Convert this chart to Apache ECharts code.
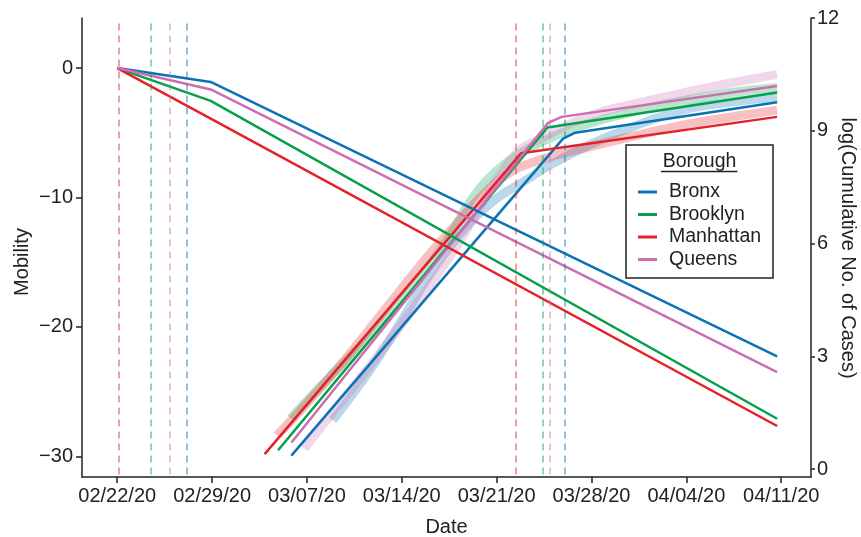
<!DOCTYPE html>
<html><head><meta charset="utf-8">
<script src="https://cdn.jsdelivr.net/npm/echarts@6/dist/echarts.min.js"></script>
<style>html,body{margin:0;padding:0;background:#fff}#c{width:861px;height:537px}</style>
</head><body><div id="c"></div>
<script>
// x values are days since 02/22/20
const boroughs = ['Bronx', 'Brooklyn', 'Manhattan', 'Queens'];
const colors = ['#0A72B5', '#07A04A', '#E42228', '#CC6FB2'];
const dateTicks = [0, 7, 14, 21, 28, 35, 42, 49];
const dateLabels = ['02/22/20', '02/29/20', '03/07/20', '03/14/20', '03/21/20', '03/28/20', '04/04/20', '04/11/20'];
const mobilityTicks = [-30, -20, -10, 0];
const casesTicks = [0, 3, 6, 9, 12];

// Mobility piecewise-linear fits [day, mobility]
const mobBronx = [[0, 0], [6.9, -1.07], [48.7, -22.27]];
const mobBrooklyn = [[0, 0], [6.9, -2.53], [48.7, -27.1]];
const mobManhattan = [[0, 0], [6.9, -3.9], [48.7, -27.66]];
const mobQueens = [[0, 0], [6.9, -1.65], [48.7, -23.5]];

// log cumulative cases: piecewise fits [day, value]
const fitBronx = [[12.85, 0.36], [32.9, 8.79], [33.8, 8.95], [48.7, 9.76]];
const fitBrooklyn = [[11.87, 0.5], [31.75, 9.09], [48.7, 10.02]];
const fitManhattan = [[10.88, 0.4], [29.8, 8.4], [48.7, 9.37]];
const fitQueens = [[12.86, 0.71], [31.8, 9.21], [32.8, 9.37], [48.7, 10.19]];

// log cumulative cases: observed (smoothed) [day, value]
const obsBronx = [[15.9, 1.3], [18.5, 2.55], [20.9, 3.9], [23.4, 5.35], [25.9, 6.5], [28, 7.2], [30, 7.65], [32, 8.1], [35, 8.65], [38, 9.1], [41.7, 9.55], [45, 9.75], [48.7, 9.9]];
const obsBrooklyn = [[12.8, 1.35], [15, 2.2], [18, 3.3], [21, 4.5], [24, 5.9], [26.4, 7.3], [28.9, 8.2], [31.3, 8.7], [34, 9.1], [38, 9.5], [41.7, 9.8], [45, 10.0], [48.7, 10.15]];
const obsManhattan = [[11.8, 0.9], [14, 1.75], [17, 3.0], [20, 4.35], [23, 5.7], [25, 6.5], [27, 7.3], [29, 7.9], [31, 8.2], [34, 8.5], [38, 8.85], [41.7, 9.15], [45, 9.35], [48.7, 9.55]];
const obsQueens = [[13.8, 0.55], [16, 1.55], [19, 2.9], [22, 4.35], [25, 5.9], [27.5, 7.4], [29.6, 8.45], [31.3, 8.8], [33.5, 9.2], [35.7, 9.5], [38, 9.7], [41.7, 10.0], [45, 10.25], [48.7, 10.5]];

// intervention dates (vertical dashed lines), days since 02/22/20
const policyBronx = [5.15, 33.0];
const policyBrooklyn = [2.5, 31.4];
const policyManhattan = [0.1, 29.4];
const policyQueens = [3.85, 31.9];

const mob = [mobBronx, mobBrooklyn, mobManhattan, mobQueens];
const fit = [fitBronx, fitBrooklyn, fitManhattan, fitQueens];
const obs = [obsBronx, obsBrooklyn, obsManhattan, obsQueens];
const policy = [policyBronx, policyBrooklyn, policyManhattan, policyQueens];

const FONT = 'Liberation Sans, Arial, Helvetica, sans-serif';
const AX = '#222';
const xMin = -2.6, xMax = 51.2;
const yMin = -31.6, yMax = 3.87;
const y2Min = -0.21, y2Max = 12;
const dashTop = 3.45;

function hexA(hex, a) {
  const n = parseInt(hex.slice(1), 16);
  return `rgba(${(n >> 16) & 255},${(n >> 8) & 255},${n & 255},${a})`;
}

const series = [];
boroughs.forEach((b, i) => {
  series.push({
    type: 'line', name: b + ' policy', data: [], yAxisIndex: 0, silent: true, z: 1,
    markLine: {
      symbol: 'none', silent: true, label: { show: false }, animation: false,
      lineStyle: { color: hexA(colors[i], 0.55), type: [7, 5], width: 1.6 },
      data: policy[i].map(d => [{ coord: [d, dashTop] }, { coord: [d, yMin] }])
    }
  });
});
boroughs.forEach((b, i) => {
  series.push({
    type: 'line', name: b + ' obs', data: obs[i], yAxisIndex: 1, smooth: 0.4,
    symbol: 'none', z: 2, silent: true,
    lineStyle: { color: colors[i], width: 9, opacity: 0.28, cap: 'butt' }
  });
});
boroughs.forEach((b, i) => {
  series.push({
    type: 'line', name: b, data: fit[i], yAxisIndex: 1, symbol: 'none', z: 3,
    lineStyle: { color: colors[i], width: 2.5 }, itemStyle: { color: colors[i] }
  });
});
boroughs.forEach((b, i) => {
  series.push({
    type: 'line', name: b, data: mob[i], yAxisIndex: 0, symbol: 'none', z: 3,
    lineStyle: { color: colors[i], width: 2.5 }, itemStyle: { color: colors[i] }
  });
});

const chart = echarts.init(document.getElementById('c'), null, { renderer: 'canvas' });
chart.setOption({
  animation: false,
  backgroundColor: '#fff',
  textStyle: { fontFamily: FONT },
  grid: { left: 82, right: 50, top: 18, bottom: 60, containLabel: false, outerBoundsMode: 'none' },
  xAxis: {
    type: 'value', min: xMin, max: xMax,
    name: 'Date', nameLocation: 'middle', nameGap: 40,
    nameTextStyle: { fontSize: 20, color: AX, fontFamily: FONT },
    axisLine: { show: true, onZero: false, lineStyle: { color: AX, width: 1.5 } },
    axisTick: { show: true, length: 6, lineStyle: { color: AX, width: 1.5 }, customValues: dateTicks },
    axisLabel: { customValues: dateTicks, fontSize: 20, color: AX, margin: 9, fontFamily: FONT,
      formatter: v => dateLabels[dateTicks.indexOf(v)] },
    splitLine: { show: false }
  },
  yAxis: [{
    type: 'value', min: yMin, max: yMax, position: 'left',
    axisLine: { show: true, onZero: false, lineStyle: { color: AX, width: 1.5 } },
    axisTick: { show: true, length: 6, lineStyle: { color: AX, width: 1.5 }, customValues: mobilityTicks },
    axisLabel: { customValues: mobilityTicks, fontSize: 20, color: AX, margin: 9, fontFamily: FONT,
      formatter: v => (v < 0 ? '\u2212' + Math.abs(v) : String(v)) },
    splitLine: { show: false }
  }, {
    type: 'value', min: y2Min, max: y2Max, position: 'right',
    axisLine: { show: true, onZero: false, lineStyle: { color: AX, width: 1.5 } },
    axisTick: { show: true, length: 4, lineStyle: { color: AX, width: 1.5 }, customValues: casesTicks },
    axisLabel: { customValues: casesTicks, fontSize: 20, color: AX, margin: 6, fontFamily: FONT },
    splitLine: { show: false }
  }],
  legend: {
    data: boroughs, orient: 'vertical', left: 638, top: 182, z: 100,
    icon: 'rect', itemWidth: 19, itemHeight: 3, itemGap: 2.5, padding: 0,
    textStyle: { fontSize: 19.5, color: AX, fontFamily: FONT, padding: [0, 0, 0, 7] },
    selectedMode: false
  },
  graphic: [
    { type: 'text', z: 95, x: 22, y: 262, rotation: Math.PI / 2,
      style: { text: 'Mobility', fontSize: 20, fontFamily: FONT, fill: AX, align: 'center', verticalAlign: 'middle' } },
    { type: 'text', z: 95, x: 848, y: 248, rotation: -Math.PI / 2,
      style: { text: 'log(Cumulative No. of Cases)', fontSize: 20, fontFamily: FONT, fill: AX, align: 'center', verticalAlign: 'middle' } },
    { type: 'rect', z: 90, shape: { x: 626, y: 145, width: 147, height: 133 },
      style: { fill: '#fff', stroke: AX, lineWidth: 1.5 } },
    { type: 'text', z: 95, x: 699.5, y: 162,
      style: { text: 'Borough', fontSize: 19.5, fontFamily: FONT, fill: AX, align: 'center', verticalAlign: 'middle' } },
    { type: 'line', z: 95, shape: { x1: 661, y1: 171.5, x2: 737.5, y2: 171.5 },
      style: { stroke: AX, lineWidth: 1.3 } }
  ],
  series: series
});
</script></body></html>
